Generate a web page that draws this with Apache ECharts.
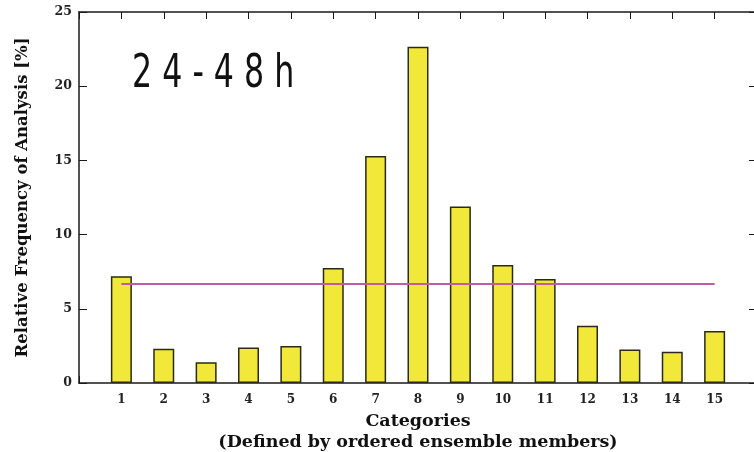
<!DOCTYPE html>
<html>
<head>
<meta charset="utf-8">
<script src="https://cdn.jsdelivr.net/npm/echarts@6/dist/echarts.min.js"></script>
<style>
  html, body { margin: 0; padding: 0; background: #ffffff; }
  #chart { width: 754px; height: 452px; }
</style>
</head>
<body>
<div id="chart"></div>
<script>
// Rank-histogram categories (ordered ensemble members)
var categories = [1, 2, 3, 4, 5, 6, 7, 8, 9, 10, 11, 12, 13, 14, 15];
// Relative frequency of the analysis falling in each category [%]
var frequency = [7.2, 2.3, 1.4, 2.4, 2.5, 7.75, 15.3, 22.65, 11.9, 7.95, 7.0, 3.85, 2.25, 2.1, 3.5];
// Flat reference level for a uniform distribution
var uniformLevel = 6.67;
var yTicks = [0, 5, 10, 15, 20, 25];

var serif = '"DejaVu Serif", "Liberation Serif", serif';
var frameColor = '#1a1a1a';

var chart = echarts.init(document.getElementById('chart'), null, { renderer: 'canvas' });

var barData = categories.map(function (c, i) { return [c, frequency[i]]; });
var lineData = [[categories[0], uniformLevel], [categories[categories.length - 1], uniformLevel]];

function xLabel(v) { return (v >= categories[0] && v <= categories[categories.length - 1]) ? String(v) : ''; }

chart.setOption({
  backgroundColor: '#ffffff',
  animation: false,
  // plot frame runs slightly past the right edge of the canvas
  grid: { left: 79, top: 12, width: 678, height: 371, containLabel: false, outerBoundsMode: 'none' },
  xAxis: [{
    type: 'value', position: 'bottom', min: 0, max: 16, interval: 1,
    axisLine: { show: true, onZero: false, lineStyle: { color: frameColor, width: 1.5 } },
    axisTick: { show: true, inside: true, length: 7, lineStyle: { color: frameColor, width: 1 } },
    axisLabel: { formatter: xLabel, color: '#222', fontFamily: serif, fontWeight: 'bold', fontSize: 12, margin: 11 },
    splitLine: { show: false },
    name: 'Categories\n(Defined by ordered ensemble members)',
    nameLocation: 'middle', nameGap: 21,
    nameTextStyle: { color: '#111', fontFamily: serif, fontWeight: 'bold', fontSize: 17.5, lineHeight: 21 }
  }, {
    type: 'value', position: 'top', min: 0, max: 16, interval: 1,
    axisLine: { show: true, onZero: false, lineStyle: { color: frameColor, width: 1.5 } },
    axisTick: { show: true, inside: true, length: 7, lineStyle: { color: frameColor, width: 1 } },
    axisLabel: { show: false },
    splitLine: { show: false }
  }],
  yAxis: [{
    type: 'value', position: 'left', min: yTicks[0], max: yTicks[yTicks.length - 1], interval: 5,
    axisLine: { show: true, onZero: false, lineStyle: { color: frameColor, width: 1.5 } },
    axisTick: { show: true, inside: true, length: 8, lineStyle: { color: frameColor, width: 1 } },
    axisLabel: { color: '#222', fontFamily: serif, fontWeight: 'bold', fontSize: 12.5, margin: 7 },
    splitLine: { show: false },
    name: 'Relative Frequency of Analysis [%]',
    nameLocation: 'middle', nameGap: 48, nameRotate: 90,
    nameTextStyle: { color: '#111', fontFamily: serif, fontWeight: 'bold', fontSize: 16.5 }
  }, {
    type: 'value', position: 'right', min: yTicks[0], max: yTicks[yTicks.length - 1], interval: 5,
    axisLine: { show: true, onZero: false, lineStyle: { color: frameColor, width: 1.5 } },
    axisTick: { show: true, inside: true, length: 8, lineStyle: { color: frameColor, width: 1 } },
    axisLabel: { show: false },
    splitLine: { show: false }
  }],
  series: [{
    type: 'bar',
    xAxisIndex: 0, yAxisIndex: 0,
    data: barData,
    barWidth: 21,
    itemStyle: { color: '#f1e83a', borderColor: '#2a2a1a', borderWidth: 1.5 },
    z: 2
  }, {
    type: 'line',
    xAxisIndex: 0, yAxisIndex: 0,
    data: lineData,
    showSymbol: false, symbol: 'none',
    lineStyle: { color: '#c25aa6', width: 2 },
    z: 3
  }],
  graphic: [{
    type: 'text',
    x: 132, y: 52,
    scaleX: 0.765, scaleY: 1,
    style: {
      text: '2 4 - 4 8 h',
      fontFamily: '"Liberation Sans Narrow", "DejaVu Sans Condensed", "Liberation Sans", sans-serif',
      fontSize: 46,
      fill: '#111'
    }
  }]
});
</script>
</body>
</html>
